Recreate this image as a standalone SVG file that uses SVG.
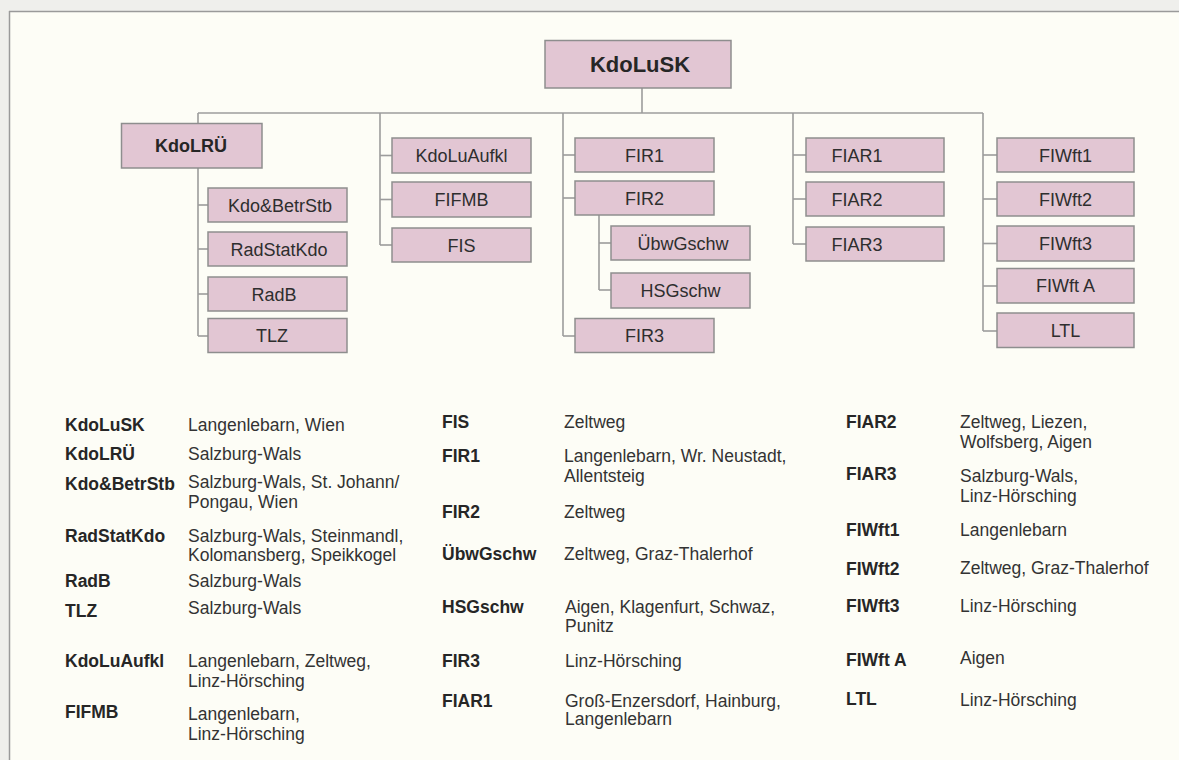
<svg xmlns="http://www.w3.org/2000/svg" width="1179" height="760" viewBox="0 0 1179 760">
  <style>
    .box { fill: #e2c6d3; stroke: #8e8e8e; stroke-width: 1.5; }
    .lbl { font-family: "Liberation Sans", Arial, sans-serif; font-size: 18px; fill: #2e2e2e; text-anchor: middle; }
    .lblb { font-family: "Liberation Sans", Arial, sans-serif; font-weight: bold; fill: #262626; text-anchor: middle; }
    .conn { stroke: #9c9c9c; stroke-width: 1.6; fill: none; }
    .k { font-family: "Liberation Sans", Arial, sans-serif; font-size: 17.5px; font-weight: bold; fill: #262626; }
    .v { font-family: "Liberation Sans", Arial, sans-serif; font-size: 17.5px; fill: #333333; }
  </style>

  <!-- page and frame -->
  <rect x="0" y="0" width="1179" height="760" fill="#efefec"/>
  <rect x="10" y="12" width="1169" height="748" fill="#fdfdf6"/>
  <line x1="9" y1="11.5" x2="1179" y2="11.5" stroke="#9a9a9a" stroke-width="1.5"/>
  <line x1="9.5" y1="11" x2="9.5" y2="760" stroke="#9a9a9a" stroke-width="1.5"/>

  <!-- connectors -->
  <g id="connectors" class="conn">
    <line x1="642" y1="88" x2="642" y2="113"/>
    <line x1="198" y1="113" x2="983" y2="113"/>
    <!-- KdoLRÜ branch -->
    <line x1="198" y1="113" x2="198" y2="336"/>
    <line x1="198" y1="205" x2="208" y2="205"/>
    <line x1="198" y1="249" x2="208" y2="249"/>
    <line x1="198" y1="294" x2="208" y2="294"/>
    <line x1="198" y1="336" x2="208" y2="336"/>
    <!-- KdoLuAufkl column -->
    <line x1="380" y1="113" x2="380" y2="245"/>
    <line x1="380" y1="155.5" x2="392" y2="155.5"/>
    <line x1="380" y1="199.5" x2="392" y2="199.5"/>
    <line x1="380" y1="245" x2="392" y2="245"/>
    <!-- FIR column -->
    <line x1="563" y1="113" x2="563" y2="336"/>
    <line x1="563" y1="155" x2="575" y2="155"/>
    <line x1="563" y1="198" x2="575" y2="198"/>
    <line x1="563" y1="336" x2="575" y2="336"/>
    <line x1="599" y1="215" x2="599" y2="290"/>
    <line x1="599" y1="243" x2="611" y2="243"/>
    <line x1="599" y1="290" x2="611" y2="290"/>
    <!-- FIAR column -->
    <line x1="793" y1="113" x2="793" y2="244"/>
    <line x1="793" y1="155" x2="806" y2="155"/>
    <line x1="793" y1="199" x2="806" y2="199"/>
    <line x1="793" y1="244" x2="806" y2="244"/>
    <!-- FIWft column -->
    <line x1="983" y1="113" x2="983" y2="331"/>
    <line x1="983" y1="155" x2="997" y2="155"/>
    <line x1="983" y1="199" x2="997" y2="199"/>
    <line x1="983" y1="243.5" x2="997" y2="243.5"/>
    <line x1="983" y1="286" x2="997" y2="286"/>
    <line x1="983" y1="331" x2="997" y2="331"/>
  </g>

  <!-- nodes -->
  <g id="KdoLuSK"><rect class="box" x="545" y="40.5" width="186" height="47.5"/><text class="lblb" x="640" y="72" font-size="22">KdoLuSK</text></g>
  <g id="KdoLRUe"><rect class="box" x="121.5" y="123.5" width="140.5" height="44.5"/><text class="lblb" x="191" y="152" font-size="18">KdoLRÜ</text></g>
  <g id="KdoBetrStb"><rect class="box" x="208" y="188" width="139" height="34"/><text class="lbl" x="280" y="211.5">Kdo&amp;BetrStb</text></g>
  <g id="RadStatKdo"><rect class="box" x="208" y="232" width="139" height="34"/><text class="lbl" x="279" y="255.5">RadStatKdo</text></g>
  <g id="RadB"><rect class="box" x="208" y="277" width="139" height="34"/><text class="lbl" x="274" y="300.5">RadB</text></g>
  <g id="TLZ"><rect class="box" x="208" y="318.5" width="139" height="34"/><text class="lbl" x="272" y="342">TLZ</text></g>

  <g id="KdoLuAufkl"><rect class="box" x="392" y="138" width="139" height="35"/><text class="lbl" x="461.5" y="162">KdoLuAufkl</text></g>
  <g id="FIFMB"><rect class="box" x="392" y="182" width="139" height="35"/><text class="lbl" x="461.5" y="206">FIFMB</text></g>
  <g id="FIS"><rect class="box" x="392" y="228" width="139" height="34"/><text class="lbl" x="461.5" y="251.5">FIS</text></g>

  <g id="FIR1"><rect class="box" x="575" y="138" width="139" height="34"/><text class="lbl" x="644.5" y="161.5">FIR1</text></g>
  <g id="FIR2"><rect class="box" x="575" y="181" width="139" height="34"/><text class="lbl" x="644.5" y="204.5">FIR2</text></g>
  <g id="UebwGschw"><rect class="box" x="611" y="226" width="139" height="34"/><text class="lbl" x="683" y="249.5">ÜbwGschw</text></g>
  <g id="HSGschw"><rect class="box" x="611" y="273" width="139" height="35"/><text class="lbl" x="680.5" y="297">HSGschw</text></g>
  <g id="FIR3"><rect class="box" x="575" y="318.5" width="139" height="34"/><text class="lbl" x="644.5" y="342">FIR3</text></g>

  <g id="FIAR1"><rect class="box" x="806" y="138" width="138" height="34"/><text class="lbl" x="857" y="161.5">FIAR1</text></g>
  <g id="FIAR2"><rect class="box" x="806" y="182" width="138" height="34"/><text class="lbl" x="857" y="205.5">FIAR2</text></g>
  <g id="FIAR3"><rect class="box" x="806" y="227" width="138" height="34"/><text class="lbl" x="857" y="250.5">FIAR3</text></g>

  <g id="FIWft1"><rect class="box" x="997" y="138" width="137" height="34"/><text class="lbl" x="1065.5" y="161.5">FIWft1</text></g>
  <g id="FIWft2"><rect class="box" x="997" y="182" width="137" height="34"/><text class="lbl" x="1065.5" y="205.5">FIWft2</text></g>
  <g id="FIWft3"><rect class="box" x="997" y="226" width="137" height="35"/><text class="lbl" x="1065.5" y="250">FIWft3</text></g>
  <g id="FIWftA"><rect class="box" x="997" y="268.5" width="137" height="34.5"/><text class="lbl" x="1065.5" y="292">FIWft A</text></g>
  <g id="LTL"><rect class="box" x="997" y="313" width="137" height="34.5"/><text class="lbl" x="1065.5" y="336.5">LTL</text></g>

  <!-- legend: unit and location -->
  <g id="legend">
    <text class="k" x="65" y="431">KdoLuSK</text><text class="v" x="188" y="431">Langenlebarn, Wien</text>
    <text class="k" x="65" y="460">KdoLRÜ</text><text class="v" x="188" y="460">Salzburg-Wals</text>
    <text class="k" x="65" y="490">Kdo&amp;BetrStb</text><text class="v" x="188" y="488">Salzburg-Wals, St. Johann/</text><text class="v" x="188" y="508">Pongau, Wien</text>
    <text class="k" x="65" y="542">RadStatKdo</text><text class="v" x="188" y="542">Salzburg-Wals, Steinmandl,</text><text class="v" x="188" y="561">Kolomansberg, Speikkogel</text>
    <text class="k" x="65" y="587">RadB</text><text class="v" x="188" y="587">Salzburg-Wals</text>
    <text class="k" x="65" y="617">TLZ</text><text class="v" x="188" y="614">Salzburg-Wals</text>
    <text class="k" x="65" y="667">KdoLuAufkl</text><text class="v" x="188" y="667">Langenlebarn, Zeltweg,</text><text class="v" x="188" y="687">Linz-Hörsching</text>
    <text class="k" x="65" y="718">FIFMB</text><text class="v" x="188" y="720">Langenlebarn,</text><text class="v" x="188" y="740">Linz-Hörsching</text>

    <text class="k" x="442" y="428">FIS</text><text class="v" x="564" y="428">Zeltweg</text>
    <text class="k" x="442" y="462">FIR1</text><text class="v" x="564" y="462">Langenlebarn, Wr. Neustadt,</text><text class="v" x="564" y="482">Allentsteig</text>
    <text class="k" x="442" y="518">FIR2</text><text class="v" x="564" y="518">Zeltweg</text>
    <text class="k" x="442" y="560">ÜbwGschw</text><text class="v" x="564" y="560">Zeltweg, Graz-Thalerhof</text>
    <text class="k" x="442" y="613">HSGschw</text><text class="v" x="565" y="613">Aigen, Klagenfurt, Schwaz,</text><text class="v" x="565" y="632">Punitz</text>
    <text class="k" x="442" y="667">FIR3</text><text class="v" x="565" y="667">Linz-Hörsching</text>
    <text class="k" x="442" y="707">FIAR1</text><text class="v" x="565" y="707">Groß-Enzersdorf, Hainburg,</text><text class="v" x="565" y="725">Langenlebarn</text>

    <text class="k" x="846" y="428">FIAR2</text><text class="v" x="960" y="428">Zeltweg, Liezen,</text><text class="v" x="960" y="448">Wolfsberg, Aigen</text>
    <text class="k" x="846" y="480">FIAR3</text><text class="v" x="960" y="482">Salzburg-Wals,</text><text class="v" x="960" y="502">Linz-Hörsching</text>
    <text class="k" x="846" y="536">FIWft1</text><text class="v" x="960" y="536">Langenlebarn</text>
    <text class="k" x="846" y="575">FIWft2</text><text class="v" x="960" y="574">Zeltweg, Graz-Thalerhof</text>
    <text class="k" x="846" y="612">FIWft3</text><text class="v" x="960" y="612">Linz-Hörsching</text>
    <text class="k" x="846" y="666">FIWft A</text><text class="v" x="960" y="664">Aigen</text>
    <text class="k" x="846" y="705">LTL</text><text class="v" x="960" y="706">Linz-Hörsching</text>
  </g>
</svg>
